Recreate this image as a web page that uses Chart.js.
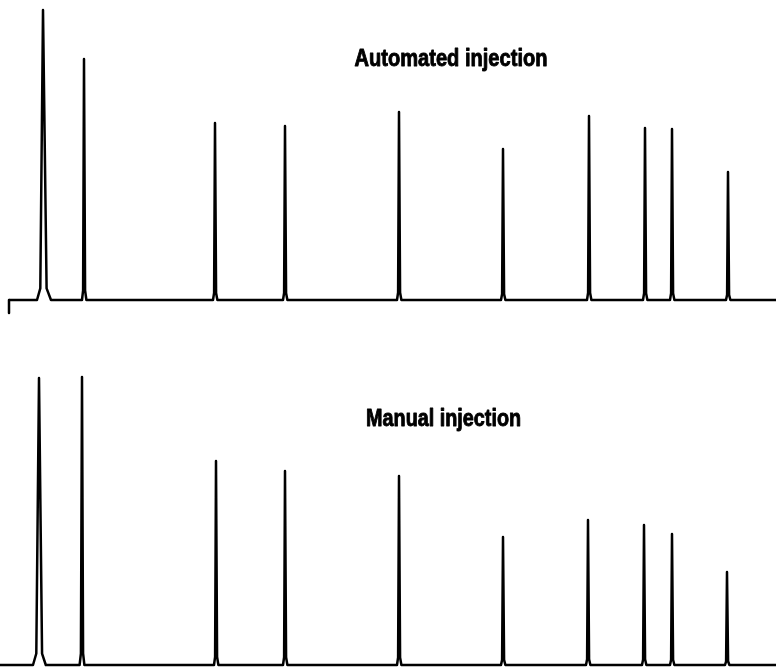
<!DOCTYPE html>
<html>
<head>
<meta charset="utf-8">
<script src="https://cdn.jsdelivr.net/npm/chart.js@4/dist/chart.umd.min.js"></script>
<style>
  html, body { margin: 0; padding: 0; background: #fff; }
  body { width: 776px; height: 671px; position: relative; overflow: hidden; }
  .wrap { position: absolute; left: 0; width: 776px; }
  #w1 { top: 0; height: 315px; }
  #w2 { top: 365px; height: 306px; }
</style>
</head>
<body>
<div class="wrap" id="w1"><canvas id="c1" width="776" height="315"></canvas></div>
<div class="wrap" id="w2"><canvas id="c2" width="776" height="306"></canvas></div>
<script>
// Retention times (min) and peak heights (relative response)
const timesAuto   = [2.15, 4.2, 10.75, 14.25, 19.95, 25.15, 29.45, 32.25, 33.6, 36.4];
const heightsAuto = [96.7, 80.3, 59.0, 58.0, 62.7, 50.3, 61.3, 57.3, 57.0, 42.7];
const timesManual   = [1.95, 4.1, 10.8, 14.25, 19.95, 25.15, 29.4, 32.2, 33.6, 36.35];
const heightsManual = [95.7, 96.0, 68.0, 64.7, 63.0, 42.7, 48.3, 46.7, 43.7, 31.0];
// peak base widths (min): leading and tailing side
const leadAuto  = [0.3, 0.1, 0.1, 0.1, 0.1, 0.1, 0.1, 0.1, 0.1, 0.1];
const tailAuto  = [0.4, 0.12, 0.12, 0.12, 0.12, 0.12, 0.12, 0.12, 0.12, 0.12];
const leadManual = [0.3, 0.12, 0.1, 0.1, 0.1, 0.1, 0.1, 0.1, 0.1, 0.1];
const tailManual = [0.34, 0.12, 0.12, 0.12, 0.12, 0.12, 0.12, 0.12, 0.12, 0.12];
const runStartAuto = 0.45, runStartManual = 0.0, runEnd = 38.8;
const labelAuto = 'Automated injection';
const labelManual = 'Manual injection';

// peak profile: fraction of height -> fraction of base width
const profileH = [0, 0.04, 1];
const profileW = [1, 0.45, 0];

function trace(start, times, heights, lead, tail) {
  const pts = [{x: start, y: 0}];
  times.forEach((t, i) => {
    for (let k = 0; k < profileH.length - 1; k++) pts.push({x: t - lead[i] * profileW[k], y: heights[i] * profileH[k]});
    pts.push({x: t, y: heights[i]});
    for (let k = profileH.length - 2; k >= 0; k--) pts.push({x: t + tail[i] * profileW[k], y: heights[i] * profileH[k]});
  });
  pts.push({x: runEnd, y: 0});
  return pts;
}

function labelPlugin(text, xVal, yVal, widthPx) {
  return {
    id: 'runLabel',
    afterDraw(chart) {
      const {ctx, scales} = chart;
      ctx.save();
      ctx.font = 'bold 23px "Liberation Sans", Arial, sans-serif';
      ctx.fillStyle = '#000';
      ctx.strokeStyle = '#000';
      ctx.lineWidth = 0.9;
      ctx.lineJoin = 'round';
      ctx.textAlign = 'center';
      ctx.textBaseline = 'alphabetic';
      const w = ctx.measureText(text).width;
      ctx.translate(scales.x.getPixelForValue(xVal), scales.y.getPixelForValue(yVal));
      ctx.scale(widthPx / w, 1);
      ctx.fillText(text, 0, 0);
      ctx.strokeText(text, 0, 0);
      ctx.restore();
    }
  };
}

function makeChart(id, datasets, yMin, label, lx, ly, lw) {
  return new Chart(document.getElementById(id), {
    type: 'line',
    data: { datasets },
    options: {
      responsive: false,
      animation: false,
      devicePixelRatio: 1,
      layout: { padding: 0 },
      parsing: false,
      elements: { point: { radius: 0 }, line: { tension: 0, borderWidth: 2.5, borderColor: '#000', borderJoinStyle: 'round', borderCapStyle: 'butt' } },
      plugins: { legend: { display: false }, tooltip: { enabled: false }, title: { display: false } },
      scales: {
        x: { type: 'linear', min: 0, max: runEnd, display: false },
        y: { type: 'linear', min: yMin, max: 100, display: false }
      }
    },
    plugins: [labelPlugin(label, lx, ly, lw)]
  });
}

makeChart('c1', [
  { data: trace(runStartAuto, timesAuto, heightsAuto, leadAuto, tailAuto), borderColor: '#000', fill: false },
  { data: [{x: runStartAuto, y: 0}, {x: runStartAuto, y: -4.3}], borderColor: '#000', fill: false }
], -5, labelAuto, 22.55, 78, 193);

makeChart('c2', [
  { data: trace(runStartManual, timesManual, heightsManual, leadManual, tailManual), borderColor: '#000', fill: false }
], -2, labelManual, 22.18, 79.7, 155);
</script>
</body>
</html>
